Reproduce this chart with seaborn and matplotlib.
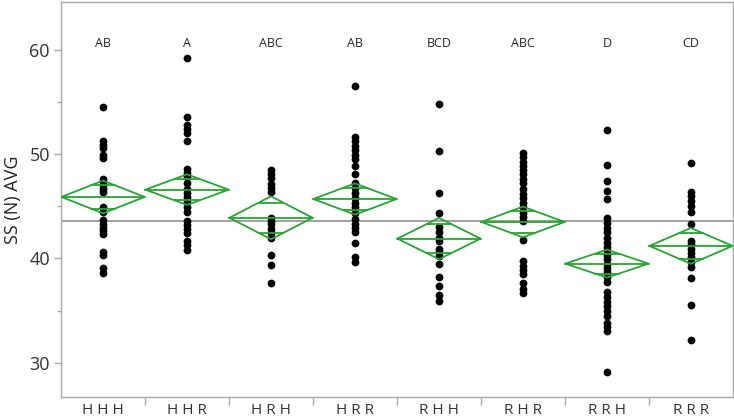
import numpy as np
import pandas as pd
import seaborn as sns
import matplotlib.pyplot as plt

# group labels and connecting letters
groups = ["H H H", "H H R", "H R H", "H R R", "R H H", "R H R", "R R H", "R R R"]
letters = ["AB", "A", "ABC", "AB", "BCD", "ABC", "D", "CD"]

# individual SS (N) AVG values per group
hhh = [54.5, 51.25, 50.9, 50.6, 49.9, 49.65, 47.6, 47.3, 47.0, 46.7, 46.4,
       44.9, 44.5, 43.65, 43.3, 42.9, 42.6, 42.3, 40.6, 40.3, 39.1, 38.6]
hhr = [59.2, 53.6, 52.8, 52.4, 52.05, 51.3, 48.6, 48.2, 47.8, 47.2, 46.7, 46.3,
       45.9, 45.4, 44.9, 44.5, 43.6, 43.2, 42.8, 42.4, 41.7, 41.3, 40.8]
hrh = [48.5, 48.1, 47.7, 47.1, 46.8, 46.4, 43.9, 43.6, 43.3, 42.8, 42.4, 42.0,
       40.3, 39.4, 37.6]
hrr = [56.5, 51.7, 51.25, 50.8, 50.4, 49.97, 49.5, 48.9, 48.1, 47.2, 46.8, 46.3,
       45.8, 45.3, 44.9, 44.4, 43.8, 43.3, 42.9, 42.5, 41.5, 40.1, 39.7]
rhh = [54.8, 50.3, 46.3, 44.4, 43.0, 42.5, 42.0, 41.7, 40.9, 40.6, 40.2, 39.5,
       38.2, 37.4, 36.5, 35.9]
rhr = [50.1, 49.7, 49.3, 48.9, 48.5, 48.1, 47.6, 47.2, 46.7, 46.2, 45.8, 45.3,
       44.9, 44.4, 44.0, 43.6, 41.8, 39.8, 39.3, 38.9, 38.5, 37.6, 37.1, 36.7]
rrh = [52.3, 49.0, 47.4, 46.5, 45.7, 43.9, 43.4, 42.95, 42.5, 42.0, 41.5, 41.1,
       40.7, 40.3, 39.9, 39.5, 39.1, 38.7, 38.2, 37.7, 36.8, 36.3, 35.8, 35.4,
       35.0, 34.5, 33.8, 33.4, 33.05, 29.1]
rrr = [49.2, 46.35, 45.95, 45.5, 45.0, 44.45, 43.3, 41.7, 41.35, 40.9, 40.5,
       40.1, 39.7, 39.2, 38.1, 35.5, 32.2]

# means diamonds (group mean and 95% CI half width) and grand mean
means = [45.9, 46.6, 43.9, 45.7, 41.9, 43.5, 39.5, 41.2]
ci_half = [1.57, 1.47, 2.06, 1.50, 1.98, 1.47, 1.34, 1.72]
grand_mean = 43.55

values = [hhh, hhr, hrh, hrr, rhh, rhr, rrh, rrr]
df = pd.DataFrame({
    "group": [g for g, v in zip(groups, values) for _ in v],
    "ss": [x for v in values for x in v],
})

sns.set_style("white")
plt.rcParams["font.family"] = ["Open Sans", "DejaVu Sans"]

fig = plt.figure(figsize=(7.34, 4.19), dpi=100)
ax = fig.add_axes([0.0831, 0.0525, 0.9155, 0.9425])

green = "#27a532"
frame = "#a8a8a8"

ax.axhline(grand_mean, color="#9a9a9a", lw=1.3, zorder=1)

sns.stripplot(data=df, x="group", y="ss", order=groups, jitter=False,
              color="black", size=5.6, linewidth=0, ax=ax, zorder=2)

half_w = 0.495
for i, (m, h) in enumerate(zip(means, ci_half)):
    ax.plot([i - half_w, i, i + half_w, i, i - half_w],
            [m, m + h, m, m - h, m], color=green, lw=1.3, zorder=3)
    ax.plot([i - half_w, i + half_w], [m, m], color=green, lw=1.3, zorder=3)
    ov = h / np.sqrt(2)
    ow = half_w * (1 - 1 / np.sqrt(2))
    for y in (m + ov, m - ov):
        ax.plot([i - ow, i + ow], [y, y], color=green, lw=1.3, zorder=3)
    ax.text(i, 60.6, letters[i], ha="center", va="center", fontsize=9,
            color="#222222")

ax.set_xlim(-0.5, len(groups) - 0.5)
ax.set_ylim(26.7, 64.6)

ax.set_yticks([30, 40, 50, 60])
ax.set_yticks([35, 45, 55], minor=True)
ax.set_xticks(range(len(groups)))
ax.set_xticklabels(groups)
ax.set_xticks(np.arange(0.5, len(groups) - 0.5, 1), minor=True)

ax.tick_params(axis="y", which="major", length=5, width=1, color=frame,
               labelsize=13, labelcolor="#333333", pad=3, left=True)
ax.tick_params(axis="y", which="minor", length=3, width=1, color=frame, left=True)
ax.tick_params(axis="x", which="major", length=0, labelsize=11,
               labelcolor="#333333", pad=4)
ax.tick_params(axis="x", which="minor", length=6, width=1, color=frame,
               bottom=True)

ax.set_xlabel("")
ax.set_ylabel("SS (N) AVG", fontsize=13, color="#222222", labelpad=5)

for s in ax.spines.values():
    s.set_color(frame)
    s.set_linewidth(1)
    s.set_visible(True)

fig.savefig("out.png", dpi=100)
